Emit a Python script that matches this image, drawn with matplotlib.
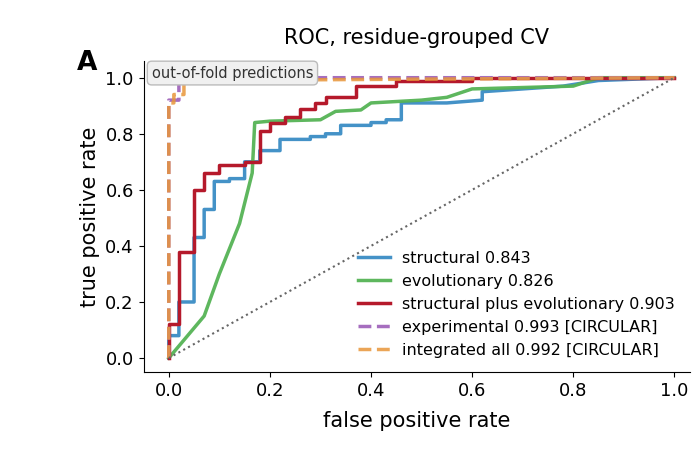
import matplotlib.pyplot as plt

struct_x = [0, 0, 0.02, 0.02, 0.05, 0.05, 0.07, 0.07, 0.09, 0.09, 0.12, 0.12, 0.15, 0.15, 0.18, 0.18,
            0.22, 0.22, 0.28, 0.28, 0.31, 0.31, 0.34, 0.34, 0.40, 0.40, 0.43, 0.43, 0.46, 0.46,
            0.55, 0.62, 0.62, 0.78, 0.85, 1.0]
struct_y = [0, 0.08, 0.08, 0.20, 0.20, 0.43, 0.43, 0.53, 0.53, 0.63, 0.63, 0.64, 0.64, 0.70, 0.70, 0.74,
            0.74, 0.78, 0.78, 0.79, 0.79, 0.80, 0.80, 0.83, 0.83, 0.84, 0.84, 0.85, 0.85, 0.91,
            0.91, 0.92, 0.95, 0.97, 0.99, 1.0]
evo_x = [0, 0.07, 0.10, 0.14, 0.165, 0.17, 0.20, 0.30, 0.33, 0.38, 0.40, 0.50, 0.55, 0.60, 0.80, 0.85, 1.0]
evo_y = [0, 0.15, 0.30, 0.48, 0.66, 0.84, 0.845, 0.85, 0.88, 0.885, 0.91, 0.92, 0.93, 0.96, 0.97, 1.0, 1.0]
both_x = [0, 0, 0.02, 0.02, 0.05, 0.05, 0.07, 0.07, 0.10, 0.10, 0.15, 0.15, 0.18, 0.18, 0.20, 0.20,
          0.23, 0.23, 0.26, 0.26, 0.29, 0.29, 0.31, 0.31, 0.37, 0.37, 0.45, 0.45, 0.60, 0.60, 1.0]
both_y = [0, 0.12, 0.12, 0.38, 0.38, 0.60, 0.60, 0.66, 0.66, 0.69, 0.69, 0.70, 0.70, 0.81, 0.81, 0.84,
          0.84, 0.86, 0.86, 0.89, 0.89, 0.91, 0.91, 0.93, 0.93, 0.97, 0.97, 0.99, 0.99, 1.0, 1.0]
exp_x = [0, 0, 0.02, 0.02, 0.06, 1.0]
exp_y = [0, 0.92, 0.92, 0.99, 1.0, 1.0]
integ_x = [0, 0, 0.01, 0.01, 0.03, 0.03, 1.0]
integ_y = [0, 0.91, 0.91, 0.94, 0.94, 0.99, 1.0]

fig, ax = plt.subplots(figsize=(7, 4.51), dpi=100)
fig.subplots_adjust(left=0.205, right=0.985, bottom=0.175, top=0.865)

ax.plot(struct_x, struct_y, color='#3a8cc4', lw=2.5, alpha=0.95, label='structural 0.843')
ax.plot(evo_x, evo_y, color='#55b355', lw=2.5, alpha=0.95, label='evolutionary 0.826')
ax.plot(both_x, both_y, color='#b5192b', lw=2.5, label='structural plus evolutionary 0.903')
ax.plot(exp_x, exp_y, color='#a66ebf', lw=2.5, ls='--', label='experimental 0.993 [CIRCULAR]')
ax.plot(integ_x, integ_y, color='#e8963a', lw=2.5, ls='--', alpha=0.85, label='integrated all 0.992 [CIRCULAR]')
ax.plot([0, 1], [0, 1], color='#666666', ls=':', lw=1.5)

ax.set_xlim(-0.05, 1.03)
ax.set_ylim(-0.05, 1.06)
ax.set_xticks([0, 0.2, 0.4, 0.6, 0.8, 1.0])
ax.set_yticks([0, 0.2, 0.4, 0.6, 0.8, 1.0])
ax.tick_params(labelsize=13)
ax.spines['top'].set_visible(False)
ax.spines['right'].set_visible(False)
ax.set_xlabel('false positive rate', fontsize=15, labelpad=8)
ax.set_ylabel('true positive rate', fontsize=15)
ax.set_title('ROC, residue-grouped CV', fontsize=15, pad=12)
ax.legend(loc='lower right', frameon=False, fontsize=11.5)
ax.text(0.015, 0.985, 'out-of-fold predictions', transform=ax.transAxes, fontsize=10.5,
        color='#333333', va='top', ha='left',
        bbox=dict(boxstyle='round,pad=0.3', fc='#f0f0f0', ec='#bbbbbb'))
fig.text(0.11, 0.845, 'A', fontsize=19, fontweight='bold')

fig.savefig('out.png')
